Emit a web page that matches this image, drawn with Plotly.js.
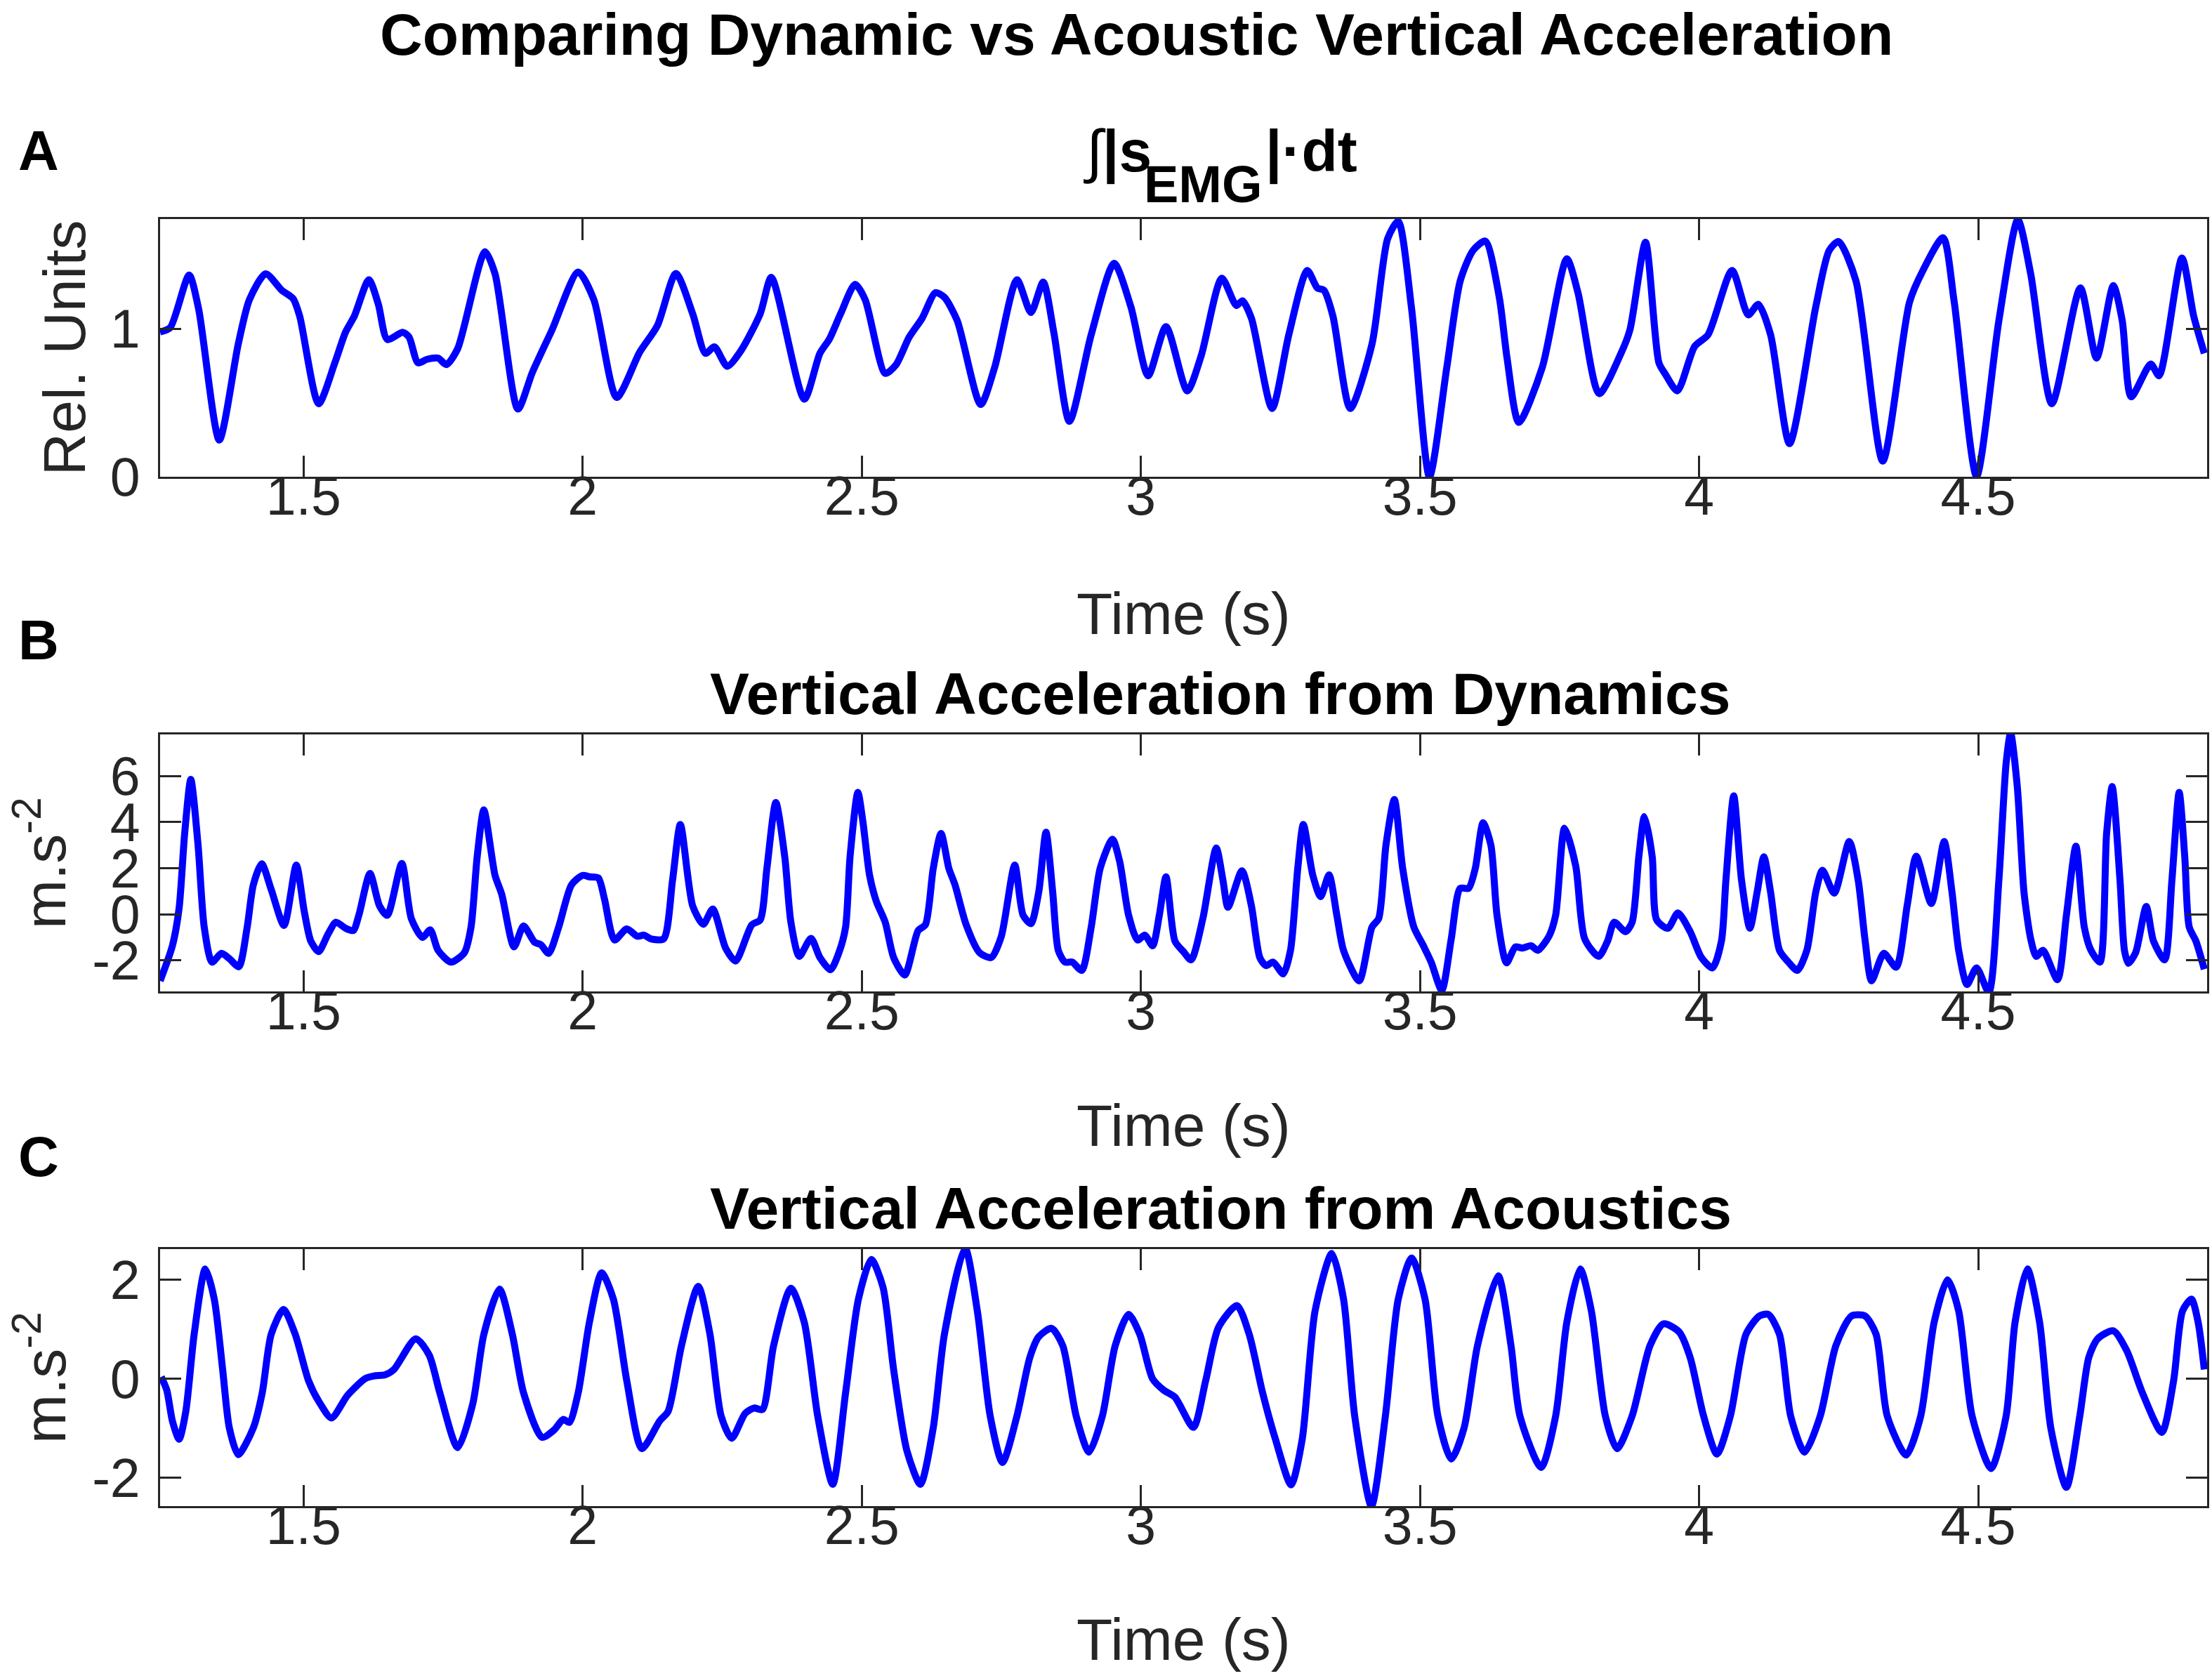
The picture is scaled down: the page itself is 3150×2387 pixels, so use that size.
<!DOCTYPE html>
<html>
<head>
<meta charset="utf-8">
<script src="https://cdn.plot.ly/plotly-3.0.1.min.js"></script>
<style>html,body{margin:0;padding:0;background:#fff}#chart{width:3150px;height:2387px}</style>
</head>
<body>
<div id="chart"></div>
<script>
// ---------- data ----------
const tA = [1.243,1.261,1.295,1.312,1.349,1.383,1.403,1.432,1.461,1.481,1.493,1.527,1.556,1.575,1.591,1.617,1.634,1.650,1.678,1.689,1.705,1.721,1.741,1.756,1.776,1.825,1.843,1.884,1.910,1.945,1.992,2.020,2.061,2.102,2.134,2.167,2.197,2.220,2.236,2.259,2.283,2.318,2.338,2.397,2.425,2.442,2.462,2.488,2.506,2.542,2.561,2.585,2.608,2.632,2.648,2.671,2.713,2.738,2.778,2.803,2.825,2.844,2.872,2.911,2.952,2.982,3.013,3.045,3.083,3.108,3.145,3.171,3.182,3.198,3.235,3.265,3.298,3.316,3.328,3.344,3.375,3.414,3.442,3.461,3.485,3.517,3.548,3.572,3.595,3.617,3.642,3.656,3.677,3.719,3.763,3.783,3.821,3.860,3.876,3.904,3.928,3.940,3.961,3.992,4.016,4.059,4.088,4.106,4.128,4.162,4.209,4.233,4.250,4.281,4.329,4.377,4.401,4.437,4.457,4.497,4.537,4.571,4.594,4.632,4.683,4.712,4.742,4.758,4.774,4.809,4.824,4.865,4.886,4.905];
const vA = [0.978,1.006,1.362,1.133,0.248,0.896,1.196,1.370,1.259,1.204,1.085,0.493,0.769,0.975,1.085,1.330,1.164,0.927,0.975,0.943,0.769,0.793,0.801,0.757,0.864,1.520,1.370,0.457,0.706,0.991,1.382,1.196,0.536,0.840,1.022,1.373,1.101,0.833,0.877,0.746,0.848,1.101,1.346,0.524,0.833,0.930,1.100,1.299,1.196,0.698,0.754,0.943,1.070,1.243,1.212,1.054,0.488,0.738,1.330,1.109,1.314,0.975,0.374,0.959,1.441,1.148,0.682,1.014,0.580,0.817,1.341,1.156,1.188,1.070,0.461,0.959,1.393,1.275,1.259,1.085,0.461,0.896,1.607,1.725,1.133,0.000,0.738,1.322,1.528,1.591,1.212,0.800,0.367,0.738,1.472,1.243,0.561,0.833,0.991,1.583,0.769,0.690,0.580,0.880,0.959,1.393,1.093,1.164,0.959,0.224,1.148,1.528,1.588,1.322,0.106,1.180,1.393,1.614,1.180,0.003,1.054,1.736,1.370,0.493,1.275,0.801,1.291,1.054,0.540,0.761,0.682,1.477,1.085,0.833];

const tB = [1.243,1.265,1.277,1.287,1.298,1.311,1.322,1.336,1.353,1.367,1.384,1.399,1.410,1.425,1.442,1.465,1.487,1.501,1.513,1.527,1.544,1.558,1.575,1.589,1.599,1.619,1.636,1.650,1.676,1.693,1.713,1.727,1.741,1.764,1.788,1.800,1.811,1.823,1.843,1.855,1.877,1.894,1.914,1.925,1.939,1.957,1.980,2.000,2.012,2.028,2.039,2.057,2.079,2.098,2.110,2.122,2.145,2.161,2.175,2.197,2.216,2.233,2.256,2.274,2.303,2.318,2.330,2.346,2.362,2.373,2.388,2.409,2.425,2.444,2.459,2.471,2.479,2.493,2.502,2.514,2.526,2.542,2.557,2.577,2.601,2.614,2.628,2.642,2.656,2.667,2.687,2.711,2.732,2.750,2.774,2.789,2.803,2.817,2.830,2.842,2.852,2.864,2.877,2.894,2.911,2.927,2.949,2.962,2.978,2.994,3.007,3.021,3.033,3.045,3.061,3.076,3.090,3.111,3.135,3.147,3.156,3.181,3.198,3.213,3.224,3.237,3.255,3.268,3.281,3.291,3.308,3.322,3.337,3.351,3.363,3.391,3.414,3.426,3.439,3.454,3.469,3.489,3.505,3.520,3.539,3.556,3.572,3.587,3.599,3.613,3.627,3.638,3.655,3.671,3.683,3.699,3.711,3.731,3.743,3.759,3.779,3.795,3.820,3.836,3.848,3.868,3.880,3.892,3.902,3.916,3.924,3.944,3.962,3.984,4.004,4.024,4.040,4.048,4.062,4.076,4.091,4.104,4.116,4.128,4.144,4.160,4.176,4.193,4.209,4.221,4.242,4.269,4.285,4.297,4.309,4.331,4.353,4.373,4.389,4.416,4.439,4.453,4.465,4.480,4.497,4.519,4.537,4.550,4.558,4.570,4.582,4.594,4.604,4.616,4.642,4.658,4.675,4.690,4.702,4.718,4.730,4.740,4.754,4.762,4.769,4.782,4.801,4.814,4.834,4.847,4.860,4.870,4.878,4.890,4.905];
const vB = [-2.88,-1.36,0.26,3.51,5.85,3.00,-0.55,-2.07,-1.69,-1.92,-2.27,-0.55,1.28,2.19,1.08,-0.48,2.14,0.16,-1.16,-1.61,-0.85,-0.34,-0.60,-0.70,-0.04,1.77,0.37,-0.04,2.21,-0.18,-1.00,-0.67,-1.56,-2.07,-1.66,-0.55,2.50,4.53,1.69,0.87,-1.41,-0.50,-1.21,-1.31,-1.69,-0.55,1.28,1.69,1.63,1.58,0.67,-1.11,-0.63,-0.95,-0.90,-1.06,-1.06,1.48,3.90,0.37,-0.43,0.23,-1.46,-2.02,-0.45,-0.24,1.99,4.85,2.50,-0.34,-1.82,-1.04,-1.87,-2.40,-1.66,-0.55,2.50,5.29,4.02,1.69,0.57,-0.34,-1.87,-2.63,-0.70,-0.45,1.99,3.51,1.99,1.28,-0.45,-1.66,-1.87,-0.95,2.14,-0.04,-0.40,0.97,3.56,0.97,-1.56,-2.07,-2.07,-2.43,-0.55,1.99,3.26,2.29,-0.04,-1.11,-0.90,-1.36,-0.04,1.63,-1.16,-1.61,-1.97,-0.18,2.88,1.48,0.31,1.89,0.37,-1.87,-2.22,-2.07,-2.58,-1.56,1.99,3.90,1.69,0.77,1.71,-0.04,-1.56,-2.88,-0.55,-0.18,3.00,4.98,1.99,-0.55,-1.31,-2.07,-3.29,-1.06,1.13,1.13,1.99,3.97,3.00,-0.04,-2.10,-1.41,-1.46,-1.36,-1.56,-0.95,-0.04,3.74,2.09,-1.06,-1.82,-1.16,-0.34,-0.75,-0.34,2.50,4.24,2.50,-0.24,-0.60,0.06,-0.75,-1.87,-2.32,-1.16,1.48,5.14,1.48,-0.60,0.97,2.50,0.97,-1.56,-2.07,-2.43,-1.56,0.97,1.91,0.92,3.16,1.48,-1.06,-2.88,-1.69,-2.29,0.42,2.52,0.47,3.16,0.97,-1.56,-3.04,-2.32,-3.37,1.48,6.56,7.86,5.54,0.97,-1.06,-1.82,-1.56,-2.83,-0.04,2.95,-0.55,-1.56,-2.07,3.51,5.54,1.48,-1.56,-2.12,-1.66,0.34,-1.16,-1.97,1.48,5.29,2.50,-0.55,-1.16,-2.38];

const tC = [1.245,1.255,1.265,1.277,1.289,1.304,1.324,1.340,1.355,1.367,1.383,1.410,1.426,1.442,1.464,1.485,1.509,1.528,1.550,1.579,1.611,1.627,1.646,1.662,1.701,1.725,1.744,1.776,1.803,1.823,1.851,1.874,1.894,1.927,1.949,1.965,1.976,1.992,2.012,2.034,2.055,2.079,2.106,2.138,2.153,2.177,2.207,2.228,2.248,2.267,2.291,2.307,2.322,2.342,2.373,2.397,2.421,2.448,2.471,2.494,2.517,2.538,2.557,2.581,2.605,2.628,2.648,2.685,2.707,2.730,2.752,2.778,2.801,2.817,2.840,2.860,2.884,2.907,2.931,2.954,2.978,2.998,3.021,3.041,3.061,3.094,3.116,3.139,3.172,3.194,3.218,3.241,3.269,3.289,3.312,3.342,3.363,3.383,3.413,3.438,3.461,3.485,3.509,3.532,3.556,3.579,3.603,3.640,3.663,3.679,3.717,3.743,3.763,3.787,3.807,3.832,3.853,3.880,3.912,3.936,3.964,3.984,4.008,4.032,4.056,4.084,4.108,4.124,4.144,4.164,4.189,4.217,4.245,4.273,4.297,4.317,4.337,4.371,4.397,4.421,4.445,4.465,4.489,4.523,4.550,4.566,4.588,4.610,4.630,4.658,4.682,4.698,4.714,4.742,4.766,4.794,4.829,4.850,4.866,4.882,4.894,4.905];
const vC = [0.04,-0.23,-0.85,-1.22,-0.66,0.90,2.22,1.61,0.19,-0.99,-1.53,-0.99,-0.28,0.90,1.40,0.90,-0.04,-0.47,-0.79,-0.33,0.01,0.06,0.08,0.19,0.81,0.48,-0.28,-1.39,-0.51,0.90,1.81,0.90,-0.28,-1.18,-1.03,-0.82,-0.88,-0.28,1.14,2.14,1.61,-0.04,-1.41,-0.85,-0.66,0.67,1.87,0.90,-0.75,-1.20,-0.70,-0.59,-0.62,0.67,1.83,1.14,-0.75,-2.13,-0.28,1.61,2.41,1.85,0.19,-1.46,-2.13,-0.99,0.90,2.64,1.37,-0.75,-1.69,-0.75,0.43,0.85,1.02,0.67,-0.75,-1.48,-0.75,0.67,1.30,0.90,0.00,-0.23,-0.37,-0.98,-0.04,1.04,1.48,0.90,-0.28,-1.22,-2.14,-1.22,1.37,2.53,1.61,-0.75,-2.57,-0.75,1.61,2.44,1.61,-0.75,-1.62,-0.99,0.67,2.08,0.67,-0.75,-1.79,-0.75,1.14,2.22,1.37,-0.75,-1.41,-0.75,0.67,1.11,0.95,0.43,-0.75,-1.52,-0.75,0.90,1.27,1.30,0.90,-0.75,-1.48,-0.75,0.67,1.27,1.27,0.90,-0.75,-1.54,-0.75,1.14,2.00,1.37,-0.75,-1.81,-0.75,1.14,2.22,1.14,-0.99,-2.19,-0.75,0.43,0.81,0.97,0.57,-0.28,-1.08,-0.04,1.37,1.61,1.14,0.19];

const xTickVals = [1.5, 2, 2.5, 3, 3.5, 4, 4.5];
const xTickText = ['1.5', '2', '2.5', '3', '3.5', '4', '4.5'];
const yTickValsA = [0, 1];
const yTickValsB = [-2, 0, 2, 4, 6];
const yTickValsC = [-2, 0, 2];

const mainTitle = 'Comparing Dynamic vs Acoustic Vertical Acceleration';
const titleAParts = ['∫|s', 'EMG', '|·dt'];
const panelTitles = ['Vertical Acceleration from Dynamics', 'Vertical Acceleration from Acoustics'];
const panelLetters = ['A', 'B', 'C'];
const xLabel = 'Time (s)';
const yLabels = ['Rel. Units', 'm.s<sup>-2</sup>', 'm.s<sup>-2</sup>'];

// ---------- layout ----------
const W = 3150, H = 2387;
const px = v => v / W;
const py = v => 1 - v / H;
const FONT = 'Liberation Sans, Arial, Helvetica, sans-serif';
const AX = '#262626';

const axL = 228, axR = 3143;
const panels = [ {top: 312, bottom: 679}, {top: 1046, bottom: 1412}, {top: 1779, bottom: 2145} ];

function xax(anchor) {
  return {
    domain: [px(axL), px(axR)], anchor: anchor, range: [1.243, 4.91],
    tickmode: 'array', tickvals: xTickVals, ticktext: xTickText,
    ticks: 'inside', ticklen: 30, tickwidth: 3, tickcolor: AX,
    showline: true, linecolor: AX, linewidth: 3, mirror: 'ticks',
    showgrid: false, zeroline: false, ticklabelstandoff: -41,
    tickfont: {family: FONT, size: 77, color: AX}, fixedrange: true
  };
}
function yax(anchor, p, range, tv) {
  return {
    domain: [py(p.bottom), py(p.top)], anchor: anchor, range: range,
    tickmode: 'array', tickvals: tv, ticktext: tv.map(String),
    ticks: 'inside', ticklen: 30, tickwidth: 3, tickcolor: AX,
    showline: true, linecolor: AX, linewidth: 3, mirror: 'ticks',
    showgrid: false, zeroline: false, ticklabelstandoff: 10,
    tickfont: {family: FONT, size: 77, color: AX}, fixedrange: true
  };
}

const lineStyle = {color: '#0000ff', width: 10, shape: 'spline', smoothing: 0.7};
const data = [
  {x: tA, y: vA, xaxis: 'x', yaxis: 'y', type: 'scatter', mode: 'lines', line: lineStyle, hoverinfo: 'skip'},
  {x: tB, y: vB, xaxis: 'x2', yaxis: 'y2', type: 'scatter', mode: 'lines', line: lineStyle, hoverinfo: 'skip'},
  {x: tC, y: vC, xaxis: 'x3', yaxis: 'y3', type: 'scatter', mode: 'lines', line: lineStyle, hoverinfo: 'skip'}
];

const ann = [];
function addText(text, x, y, size, opts) {
  ann.push(Object.assign({
    text: text, xref: 'paper', yref: 'paper', x: px(x), y: py(y),
    xanchor: 'center', yanchor: 'middle', showarrow: false,
    font: {family: FONT, size: size, color: '#000'}
  }, opts || {}));
}
// main title
addText('<b>' + mainTitle + '</b>', 1618, 0, 84, {yanchor: 'top'});
// panel A title built from TeX-like parts: integral, subscript, rest
addText('<span style="font-weight:normal">' + titleAParts[0].charAt(0) + '</span><b>' + titleAParts[0].slice(1) + '</b>', 1541, 216, 84, {xanchor: 'left'});
addText('<b>' + titleAParts[1] + '</b>', 1627, 262, 74, {xanchor: 'left'});
addText('<b>' + titleAParts[2] + '</b>', 1800, 216, 84, {xanchor: 'left'});
// panel B, C titles
addText('<b>' + panelTitles[0] + '</b>', 1738, 988, 84);
addText('<b>' + panelTitles[1] + '</b>', 1738, 1721, 84);

const letterY = [215, 911, 1647];
const xLabY = [874, 1603, 2335];
const yLabX = [141, 113, 113];
for (let i = 0; i < 3; i++) {
  addText('<b>' + panelLetters[i] + '</b>', 24, letterY[i], 80, {xanchor: 'left'});
  addText(xLabel, 1685, xLabY[i], 84, {font: {family: FONT, size: 84, color: AX}});
  addText(yLabels[i], yLabX[i], (panels[i].top + panels[i].bottom) / 2, 84,
    {xanchor: 'right', textangle: -90, font: {family: FONT, size: 84, color: AX}});
}

const layout = {
  width: W, height: H, margin: {l: 0, r: 0, t: 0, b: 0},
  paper_bgcolor: '#fff', plot_bgcolor: '#fff', showlegend: false,
  xaxis: xax('y'), xaxis2: xax('y2'), xaxis3: xax('y3'),
  yaxis: yax('x', panels[0], [0, 1.74], yTickValsA),
  yaxis2: yax('x2', panels[1], [-3.34, 7.80], yTickValsB),
  yaxis3: yax('x3', panels[2], [-2.57, 2.62], yTickValsC),
  annotations: ann
};

Plotly.newPlot('chart', data, layout, {staticPlot: true, displayModeBar: false});
</script>
</body>
</html>
